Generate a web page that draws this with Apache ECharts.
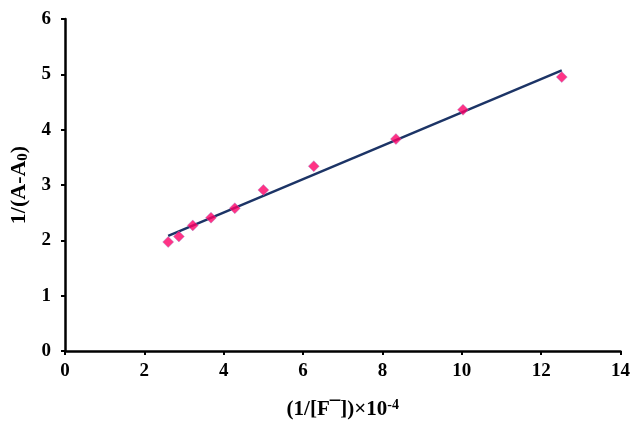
<!DOCTYPE html>
<html>
<head>
<meta charset="utf-8">
<script src="https://cdn.jsdelivr.net/npm/echarts@6/dist/echarts.min.js"></script>
<style>html,body{margin:0;padding:0;background:#fff}#c{width:633px;height:425px}</style>
</head>
<body>
<div id="c"></div>
<script>
const xValues = [2.6, 2.87, 3.22, 3.68, 4.28, 5.0, 6.27, 8.34, 10.03, 12.52];
const yValues = [1.97, 2.07, 2.27, 2.41, 2.58, 2.91, 3.34, 3.83, 4.36, 4.95];
const xTicks = [0, 2, 4, 6, 8, 10, 12, 14];
const yTicks = [0, 1, 2, 3, 4, 5, 6];

// least-squares trend line through the data
const n = xValues.length;
const mx = xValues.reduce((a, b) => a + b, 0) / n;
const my = yValues.reduce((a, b) => a + b, 0) / n;
let sxy = 0, sxx = 0;
for (let i = 0; i < n; i++) { sxy += (xValues[i] - mx) * (yValues[i] - my); sxx += (xValues[i] - mx) ** 2; }
const slope = sxy / sxx, icpt = my - slope * mx;
const xMin = Math.min(...xValues), xMax = Math.max(...xValues);
const fitLine = [[xMin, icpt + slope * xMin], [xMax, icpt + slope * xMax]];

const FONT = '"Liberation Serif", "Times New Roman", serif';
const chart = echarts.init(document.getElementById('c'), null, {renderer: 'canvas'});
chart.setOption({
  animation: false,
  backgroundColor: '#ffffff',
  grid: {left: 65, right: 12, top: 19, bottom: 73},
  xAxis: {
    type: 'value', min: xTicks[0], max: xTicks[xTicks.length - 1], interval: 2,
    splitLine: {show: false},
    axisLine: {show: true, lineStyle: {color: '#000', width: 2.5}},
    axisTick: {show: true, inside: false, length: 4, lineStyle: {color: '#000', width: 2}},
    axisLabel: {color: '#000', fontFamily: FONT, fontWeight: 'bold', fontSize: 19, margin: 11},
    name: '(1/[F¯])×10{s|-4}',
    nameLocation: 'middle', nameGap: 47,
    nameTextStyle: {color: '#000', fontFamily: FONT, fontWeight: 'bold', fontSize: 21,
      rich: {s: {fontFamily: FONT, fontWeight: 'bold', fontSize: 14, verticalAlign: 'top', padding: [0, 0, 9, 0]}}}
  },
  yAxis: {
    type: 'value', min: yTicks[0], max: yTicks[yTicks.length - 1], interval: 1,
    splitLine: {show: false},
    axisLine: {show: true, lineStyle: {color: '#000', width: 2.5}},
    axisTick: {show: true, inside: false, length: 4, lineStyle: {color: '#000', width: 2}},
    axisLabel: {color: '#000', fontFamily: FONT, fontWeight: 'bold', fontSize: 19, margin: 14},
    name: '1/(A-A{s|0})',
    nameLocation: 'middle', nameGap: 33, nameRotate: 90,
    nameTextStyle: {color: '#000', fontFamily: FONT, fontWeight: 'bold', fontSize: 22,
      rich: {s: {fontFamily: FONT, fontWeight: 'bold', fontSize: 15, padding: [8, 0, 0, 0]}}}
  },
  series: [
    {
      type: 'line', data: fitLine, symbol: 'none', z: 2,
      lineStyle: {color: '#1c3466', width: 2.5}
    },
    {
      type: 'scatter', data: xValues.map((x, i) => [x, yValues[i]]),
      symbol: 'diamond', symbolSize: 11, z: 3,
      itemStyle: {color: '#ff0066', borderColor: '#9a8fd0', borderWidth: 0.5}
    }
  ]
});
</script>
</body>
</html>
